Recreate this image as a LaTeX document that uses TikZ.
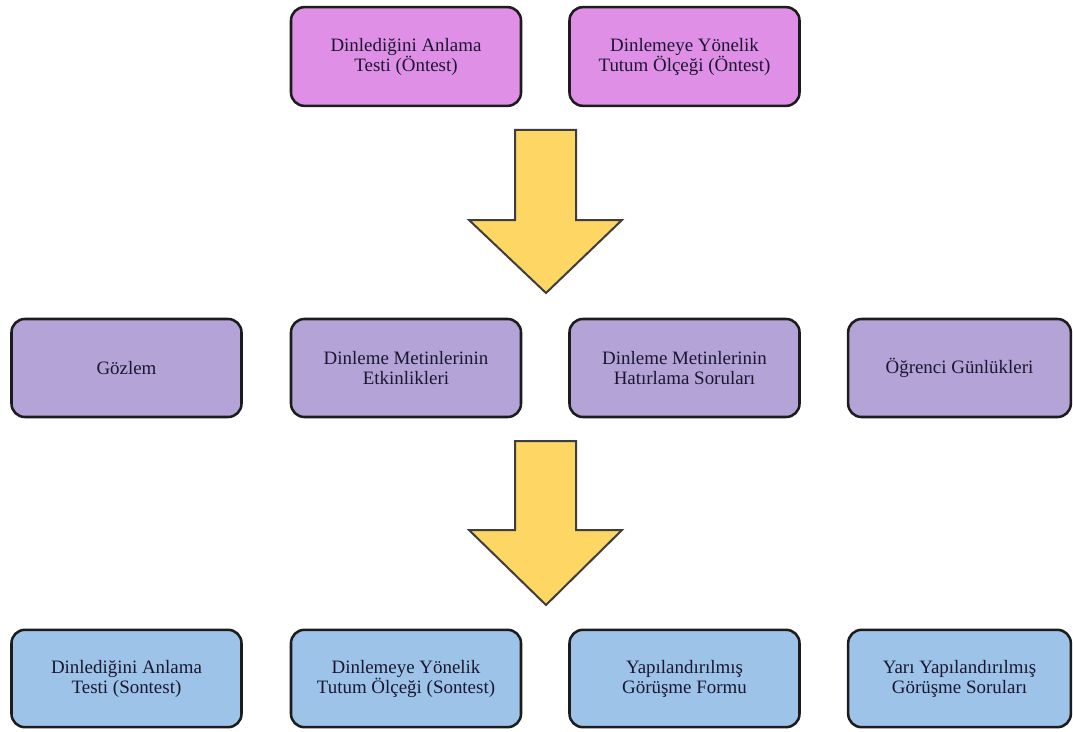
\documentclass[tikz,border=0pt]{standalone}
\usepackage{fontspec}
\setmainfont{Liberation Serif}
\definecolor{pinkfill}{HTML}{E08FE6}
\definecolor{lilacfill}{HTML}{B3A3D6}
\definecolor{bluefill}{HTML}{9DC3E8}
\definecolor{arrowfill}{HTML}{FDD663}
\definecolor{edgecol}{HTML}{1C1C1C}
\definecolor{textcol}{HTML}{1A1730}
\tikzset{
  box/.style={draw=edgecol, line width=1.9pt, rounded corners=10pt,
    minimum width=172.5pt, minimum height=73.5pt, align=center,
    text=textcol, font=\fontsize{14.2pt}{15pt}\selectfont, inner sep=0pt},
  pre/.style={box, fill=pinkfill},
  mid/.style={box, fill=lilacfill},
  post/.style={box, fill=bluefill},
  blockarrow/.style={draw=edgecol!85, line width=1.5pt, fill=arrowfill, line join=miter}
}
\begin{document}
\begin{tikzpicture}[x=0.75pt, y=-0.75pt]
\useasboundingbox (0,0) rectangle (1073,731);
\fill[white] (0,0) rectangle (1073,731);

% pre-tests
\node[pre, minimum height=74pt] (preA) at (406,56.5) {Dinlediğini Anlama\\Testi (Öntest)};
\node[pre, minimum height=74pt] (preB) at (684.5,56.5) {Dinlemeye Yönelik\\Tutum Ölçeği (Öntest)};

% process instruments
\node[mid] (obs) at (126.5,368) {Gözlem};
\node[mid] (act) at (406,368) {Dinleme Metinlerinin\\Etkinlikleri};
\node[mid] (rec) at (684.5,368) {Dinleme Metinlerinin\\Hatırlama Soruları};
\node[mid, minimum width=167pt] (diary) at (959.5,368) {Öğrenci Günlükleri};

% post-tests
\node[post, minimum height=73pt] (postA) at (126.5,678.5) {Dinlediğini Anlama\\Testi (Sontest)};
\node[post, minimum height=73pt] (postB) at (406,678.5) {Dinlemeye Yönelik\\Tutum Ölçeği (Sontest)};
\node[post, minimum height=73pt] (form) at (684.5,678.5) {Yapılandırılmış\\Görüşme Formu};
\node[post, minimum height=73pt, minimum width=167pt] (semi) at (959.5,678.5) {Yarı Yapılandırılmış\\Görüşme Soruları};

% block arrows between stages
\draw[blockarrow] (515,130) -- (576,130) -- (576,220) -- (622,220) -- (546,293)
  -- (469,220) -- (515,220) -- cycle;
\draw[blockarrow] (515,441) -- (576,441) -- (576,530) -- (622,530) -- (546,605)
  -- (469,530) -- (515,530) -- cycle;
\end{tikzpicture}
\end{document}
